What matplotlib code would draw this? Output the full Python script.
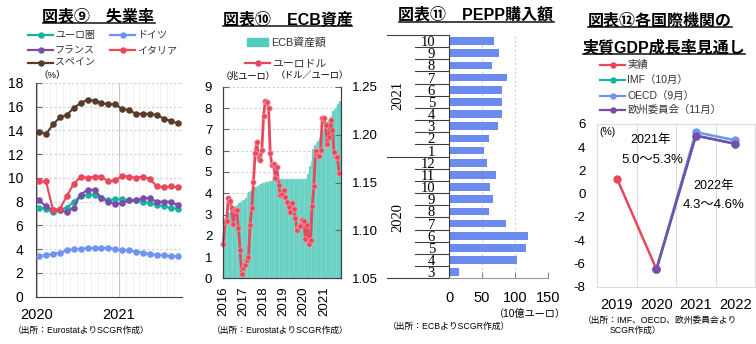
import matplotlib
matplotlib.use('Agg')
import matplotlib.pyplot as plt
from matplotlib.lines import Line2D
from matplotlib.patches import Rectangle
import numpy as np

# --- data -------------------------------------------------------------
# fig 9: unemployment rate (%), monthly 2020-01 .. 2021-09
euro_area = [7.5, 7.4, 7.1, 7.3, 7.5, 8.0, 8.5, 8.6, 8.6, 8.3, 8.1, 8.2, 8.2, 8.1, 8.1, 8.0, 7.9, 7.7, 7.6, 7.5, 7.4]
germany = [3.4, 3.5, 3.6, 3.7, 3.9, 4.0, 4.0, 4.1, 4.1, 4.1, 4.1, 4.0, 3.9, 3.9, 3.8, 3.7, 3.6, 3.5, 3.5, 3.4, 3.4]
france = [8.1, 7.6, 7.3, 7.3, 7.1, 7.5, 8.6, 9.0, 9.0, 8.3, 8.0, 7.8, 7.9, 8.1, 8.1, 8.3, 8.3, 8.0, 8.0, 8.0, 7.7]
italy = [9.7, 9.7, 7.3, 7.4, 8.5, 9.5, 10.1, 10.0, 10.1, 10.1, 9.7, 9.8, 10.2, 10.1, 10.0, 10.1, 9.9, 9.3, 9.2, 9.3, 9.2]
spain = [13.9, 13.7, 14.5, 15.1, 15.3, 15.9, 16.3, 16.6, 16.5, 16.3, 16.2, 16.2, 15.8, 15.7, 15.4, 15.4, 15.4, 15.3, 15.0, 14.8, 14.6]
year_labels1 = ['2020', '2021']

# fig 10: ECB assets (trn EUR) and EUR/USD, monthly 2016-01 .. 2021-10
ecb_assets = [2.78, 2.85, 2.95, 3.05, 3.15, 3.25, 3.32, 3.38, 3.45, 3.52, 3.58, 3.66,
              3.70, 3.78, 3.95, 4.05, 4.12, 4.20, 4.25, 4.30, 4.35, 4.38, 4.42, 4.47,
              4.50, 4.52, 4.54, 4.56, 4.58, 4.60, 4.61, 4.62, 4.63, 4.64, 4.65, 4.67,
              4.68, 4.68, 4.69, 4.69, 4.69, 4.69, 4.68, 4.68, 4.68, 4.67, 4.67, 4.67,
              4.67, 4.68, 4.90, 5.30, 5.50, 6.10, 6.25, 6.35, 6.45, 6.60, 6.75, 6.95,
              7.05, 7.30, 7.40, 7.55, 7.65, 7.85, 7.95, 8.05, 8.20, 8.35]
eurusd = [1.086, 1.109, 1.110, 1.134, 1.131, 1.123, 1.107, 1.121, 1.121, 1.103, 1.080, 1.054,
          1.061, 1.064, 1.069, 1.072, 1.106, 1.123, 1.151, 1.181, 1.192, 1.176, 1.174, 1.184,
          1.220, 1.235, 1.234, 1.228, 1.181, 1.168, 1.169, 1.155, 1.166, 1.148, 1.137, 1.138,
          1.142, 1.135, 1.130, 1.124, 1.119, 1.129, 1.122, 1.113, 1.100, 1.105, 1.105, 1.111,
          1.110, 1.091, 1.106, 1.086, 1.090, 1.126, 1.146, 1.183, 1.179, 1.178, 1.184, 1.217,
          1.217, 1.210, 1.190, 1.198, 1.215, 1.205, 1.182, 1.177, 1.177, 1.160]
year_labels2 = ['2016', '2017', '2018', '2019', '2020', '2021']

# fig 11: PEPP purchases (bn EUR), 2020-03 .. 2021-10 (bottom to top)
pepp_months = ['3', '4', '5', '6', '7', '8', '9', '10', '11', '12',
               '1', '2', '3', '4', '5', '6', '7', '8', '9', '10']
pepp_years = ['2020'] * 10 + ['2021'] * 10
pepp = [15, 103, 116, 120, 86, 60, 67, 62, 71, 58, 53, 60, 74, 80, 81, 81, 88, 65, 75, 68]

# fig 12: real GDP growth outlook (%)
gdp_years = ['2019', '2020', '2021', '2022']
actual = [1.3, -6.5]
imf = [-6.5, 5.0, 4.3]
oecd = [-6.5, 5.3, 4.6]
eu_comm = [-6.5, 5.0, 4.3]

# --- setup ------------------------------------------------------------
W, H = 756, 344
plt.rcParams['font.family'] = ['Liberation Sans', 'Noto Sans CJK JP']
plt.rcParams['axes.unicode_minus'] = False
fig = plt.figure(figsize=(W / 100, H / 100), dpi=100)

c_ea = '#17b3a0'
c_de = '#6f93f0'
c_fr = '#7a4ea6'
c_it = '#e9485b'
c_es = '#5a3a2a'
c_teal = '#55cbbb'
c_bar3 = '#6b8bef'
dark = '#404040'


def box(l, t, r, b):
    return [l / W, 1 - b / H, (r - l) / W, (b - t) / H]


def ftext(x, y, s, **kw):
    return fig.text(x / W, 1 - y / H, s, **kw)


def legline(x0, x1, y, color, label, size=7.2, lw=1.6, ms=3.6):
    fig.add_artist(Line2D([x0 / W, x1 / W], [1 - y / H] * 2, color=color, lw=lw))
    fig.add_artist(Line2D([(x0 + x1) / 2 / W], [1 - y / H], color=color, marker='o', ms=ms, lw=0))
    ftext(x1 + 2, y, label, ha='left', va='center', fontsize=size, color='#333333')


titles = []


def title(x, y, s, size=11.5):
    t = ftext(x, y, s, ha='center', va='center', fontsize=size, fontweight='bold')
    titles.append(t)


# --- fig 9 -------------------------------------------------------------
ax1 = fig.add_axes(box(35.7, 82.9, 181.7, 296.7))
x1 = np.arange(len(spain))
for vals, c in [(euro_area, c_ea), (germany, c_de), (france, c_fr), (italy, c_it), (spain, c_es)]:
    ax1.plot(x1, vals, color=c, lw=1.5, marker='o', ms=3.7, clip_on=False, zorder=3)
ax1.set_ylim(0, 18)
ax1.set_yticks(np.arange(0, 19, 2))
ax1.set_xlim(-0.5, len(spain) - 0.4)
ax1.set_xticks([-0.3, 11.5])
ax1.set_xticklabels(year_labels1)
ax1.set_xticks(np.arange(0.5, len(spain) - 1, 1), minor=True)
ax1.grid(axis='y', ls=(0, (2, 2)), color='#cfcfcf', lw=0.8)
ax1.grid(axis='x', which='minor', color='#eeeeee', lw=0.6)
ax1.grid(axis='x', which='major', color='#c4c4c4', lw=0.8)
ax1.tick_params(axis='y', direction='in', length=4, color='#666666', labelsize=10, pad=9)
ax1.tick_params(axis='x', which='both', length=0, labelsize=10.5, pad=8)
for s in ['top', 'right']:
    ax1.spines[s].set_visible(False)
for s in ['left', 'bottom']:
    ax1.spines[s].set_color(dark)

title(98.5, 16.7, '図表⑨　失業率')
legline(28, 53, 35, c_ea, 'ユーロ圏')
legline(110, 135, 35, c_de, 'ドイツ')
legline(28, 53, 50, c_fr, 'フランス')
legline(110, 135, 50, c_it, 'イタリア')
legline(28, 53, 63, c_es, 'スペイン')
ftext(52, 75, '（%）', ha='center', va='center', fontsize=6.8)
ftext(13, 330, '（出所：EurostatよりSCGR作成）', ha='left', va='center', fontsize=6.3)

# --- fig 10 ------------------------------------------------------------
ax2 = fig.add_axes(box(223.3, 86.9, 340.7, 278.3))
m = np.arange(len(ecb_assets))
ax2.bar(m, ecb_assets, width=1.0, align='edge', color=c_teal, edgecolor='#a3e5da', lw=0.3, zorder=2)
ax2.set_xlim(0, len(ecb_assets))
ax2.set_ylim(0, 9)
ax2.set_yticks(np.arange(0, 10))
ax2.set_xticks(np.arange(0, len(ecb_assets), 12))
ax2.set_xticklabels(year_labels2, rotation=90)
ax2.grid(axis='y', ls=(0, (2, 2)), color='#cfcfcf', lw=0.8)
ax2.tick_params(axis='y', direction='in', length=4, color='#666666', labelsize=9.5, pad=8)
ax2.tick_params(axis='x', direction='in', length=3, color='#666666', labelsize=9.5, pad=6)
ax2r = ax2.twinx()
ax2r.plot(m, eurusd, color=c_it, lw=2, marker='o', ms=3.9, mec='#f4a3ad', mew=0.5, clip_on=False)
ax2r.set_ylim(1.05, 1.25)
ax2r.set_yticks([1.05, 1.10, 1.15, 1.20, 1.25])
ax2r.set_yticklabels(['%.2f' % v for v in [1.05, 1.10, 1.15, 1.20, 1.25]])
ax2r.tick_params(axis='y', direction='in', length=4, color='#666666', labelsize=9.5, pad=8)
for a in (ax2, ax2r):
    a.spines['top'].set_visible(False)
    for s in ['left', 'right', 'bottom']:
        a.spines[s].set_color(dark)

title(287.5, 19, '図表⑩　ECB資産')
fig.add_artist(Rectangle((247 / W, 1 - 45.5 / H), 21 / W, 7 / H, color=c_teal))
ftext(271, 42, 'ECB資産額', ha='left', va='center', fontsize=7.8, color='#333333')
legline(245, 270, 63, c_it, 'ユーロドル', size=7.8)
ftext(248, 76, '（兆ユーロ）', ha='center', va='center', fontsize=6.6)
ftext(312, 76, '（ドル／ユーロ）', ha='center', va='center', fontsize=6.6)
ftext(280, 330, '（出所：EurostatよりSCGR作成）', ha='center', va='center', fontsize=6.3)

# --- fig 11 ------------------------------------------------------------
ax3 = fig.add_axes(box(449, 35, 548, 278.3))
y3 = np.arange(len(pepp))
ax3.barh(y3, pepp, height=0.63, color=c_bar3, zorder=2)
ax3.set_ylim(-0.5, len(pepp) - 0.5)
ax3.set_xlim(0, 150)
ax3.set_xticks([0, 50, 100, 150])
ax3.set_yticks(y3)
ax3.set_yticklabels(pepp_months, fontfamily='Liberation Serif', fontsize=10.5)
ax3.grid(axis='x', ls=(0, (2, 2)), color='#cfcfcf', lw=0.8)
ax3.tick_params(axis='y', length=0, pad=10)
ax3.tick_params(axis='x', direction='in', length=4, color='#888888', labelsize=10.5, pad=9.5)
for s in ['top', 'right']:
    ax3.spines[s].set_visible(False)
ax3.spines['left'].set_color(dark)
ax3.spines['bottom'].set_color('#9a9a9a')
tr = ax3.get_yaxis_transform()
for i in range(len(pepp) + 1):
    long_line = i == 0 or i == len(pepp) or pepp_years[i] != pepp_years[i - 1]
    x0 = -0.63 if long_line else -0.34
    ax3.add_line(Line2D([x0, 0], [i - 0.5, i - 0.5], transform=tr, color=dark, lw=0.8, clip_on=False))
for yr in dict.fromkeys(pepp_years):
    idx = [i for i, v in enumerate(pepp_years) if v == yr]
    ax3.text(-0.515, np.mean(idx), yr, transform=tr, rotation=90, ha='center', va='center',
             fontfamily='Liberation Serif', fontsize=10.5)

title(476, 15, '図表⑪　PEPP購入額')
ftext(530, 314, '（10億ユーロ）', ha='center', va='center', fontsize=7.3)
ftext(388, 326, '（出所：ECBよりSCGR作成）', ha='left', va='center', fontsize=6.3)

# --- fig 12 ------------------------------------------------------------
ax4 = fig.add_axes(box(597.3, 124, 755, 286.7))
ax4.plot(np.arange(len(actual)), actual, color=c_it, lw=1.8, marker='o', ms=5)
xf = np.arange(1, 1 + len(imf))
ax4.plot(xf, imf, color=c_ea, lw=1.8, marker='o', ms=5)
ax4.plot(xf, oecd, color=c_de, lw=1.8, marker='o', ms=5)
ax4.plot(xf, eu_comm, color=c_fr, lw=1.8, marker='o', ms=5)
ax4.set_xlim(-0.5, len(gdp_years) - 0.5)
ax4.set_ylim(-8, 6)
ax4.set_yticks(np.arange(-8, 7, 2))
ax4.set_xticks(np.arange(len(gdp_years)))
ax4.set_xticklabels(gdp_years)
ax4.set_xticks(np.arange(0.5, len(gdp_years) - 1, 1), minor=True)
ax4.grid(axis='x', which='minor', color='#dcdcdc', lw=0.8)
ax4.tick_params(axis='both', which='both', length=0)
ax4.tick_params(axis='y', labelsize=9.5, pad=8.5)
ax4.tick_params(axis='x', labelsize=10.5, pad=8)
for s in ax4.spines.values():
    s.set_color('#dcdcdc')

title(660, 20.7, '図表⑫各国際機関の')
title(664, 46.7, '実質GDP成長率見通し')
legline(600, 625, 65, c_it, '実績', size=7.5)
legline(600, 625, 80, c_ea, 'IMF（10月）', size=7.5)
legline(600, 625, 96, c_de, 'OECD（9月）', size=7.5)
legline(600, 625, 110, c_fr, '欧州委員会（11月）', size=7.5)
ftext(599, 132, '(%)', ha='left', va='center', fontsize=7.5)
ftext(651, 140, '2021年', ha='center', va='center', fontsize=9)
ftext(652, 160, '5.0～5.3%', ha='center', va='center', fontsize=9.5)
ftext(714, 186, '2022年', ha='center', va='center', fontsize=9)
ftext(714, 205, '4.3～4.6%', ha='center', va='center', fontsize=9.5)
ftext(583, 320, '（出所：IMF、OECD、欧州委員会より', ha='left', va='center', fontsize=6.3)
ftext(610, 330, 'SCGR作成）', ha='left', va='center', fontsize=6.3)

# underline the titles
fig.canvas.draw()
for t in titles:
    bb = t.get_window_extent()
    yy = (bb.y0 + 1) / H
    fig.add_artist(Line2D([bb.x0 / W, bb.x1 / W], [yy, yy], color='#222222', lw=1.2))

fig.savefig('out.png', dpi=100)
